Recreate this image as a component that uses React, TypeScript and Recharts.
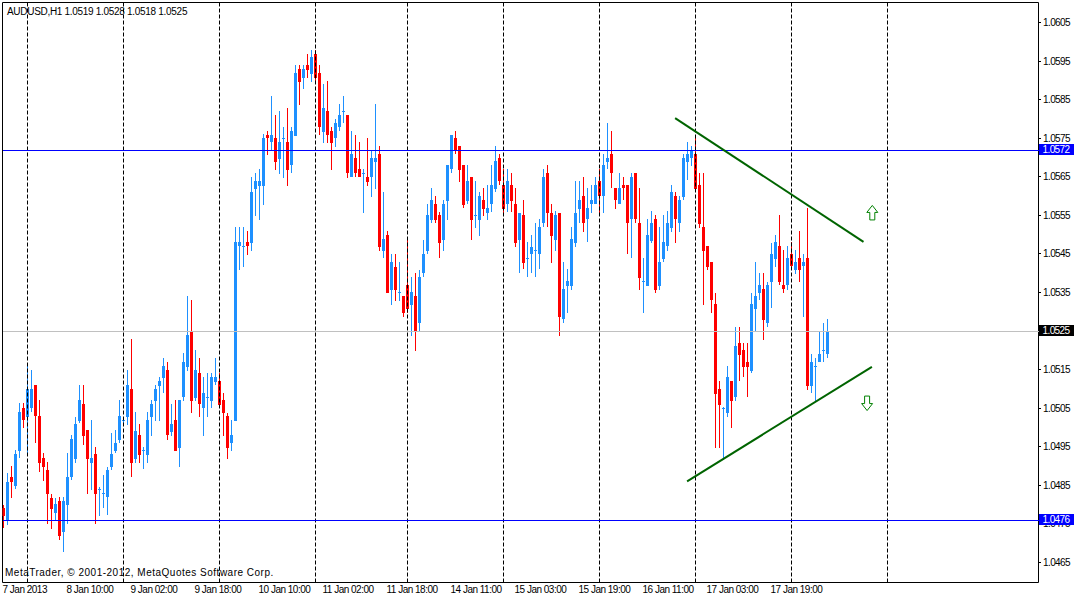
import React from 'react';
import { ComposedChart, Bar, XAxis, YAxis, ReferenceLine, ReferenceArea, ReferenceDot } from 'recharts';

// ---------- data ----------
const symbolTitle = 'AUDUSD,H1';
const copyrightText = 'MetaTrader, \u00a9 2001-2012, MetaQuotes Software Corp.';

const opens = [
  1.04791, 1.04755, 1.04871, 1.04848, 1.04939, 1.05049, 1.05027, 1.05048, 1.05109, 1.05028,
  1.04920, 1.04889, 1.04815, 1.04778, 1.04808, 1.04729, 1.04799, 1.04871, 1.04918, 1.05016,
  1.05060, 1.04991, 1.04907, 1.04930, 1.04837, 1.04826, 1.04819, 1.04897, 1.04938, 1.04966,
  1.05017, 1.05027, 1.05098, 1.04918, 1.04979, 1.04939, 1.04927, 1.05025, 1.05068, 1.05107,
  1.05128, 1.05148, 1.04987, 1.05018, 1.04946, 1.05077, 1.05156, 1.05248, 1.05076, 1.05141,
  1.05048, 1.05076, 1.05068, 1.05117, 1.05119, 1.05070, 1.05029, 1.04958, 1.05016, 1.05468,
  1.05468, 1.05480, 1.05478, 1.05617, 1.05626, 1.05626, 1.05757, 1.05738, 1.05748, 1.05696,
  1.05748, 1.05739, 1.05678, 1.05755, 1.05928, 1.05906, 1.05939, 1.05916, 1.05967, 1.05919,
  1.05766, 1.05819, 1.05767, 1.05748, 1.05777, 1.05819, 1.05809, 1.05647, 1.05697, 1.05669,
  1.05657, 1.05647, 1.05647, 1.05688, 1.05708, 1.05457, 1.05498, 1.05355, 1.05414, 1.05347,
  1.05340, 1.05368, 1.05316, 1.05340, 1.05269, 1.05398, 1.05457, 1.05537, 1.05577, 1.05549,
  1.05486, 1.05587, 1.05668, 1.05748, 1.05728, 1.05679, 1.05587, 1.05649, 1.05548, 1.05537,
  1.05589, 1.05556, 1.05577, 1.05617, 1.05697, 1.05627, 1.05577, 1.05627, 1.05577, 1.05486,
  1.05549, 1.05436, 1.05448, 1.05458, 1.05448, 1.05528, 1.05658, 1.05556, 1.05486, 1.05556,
  1.05279, 1.05366, 1.05366, 1.05478, 1.05566, 1.05599, 1.05538, 1.05577, 1.05577, 1.05638,
  1.05599, 1.05688, 1.05709, 1.05619, 1.05577, 1.05627, 1.05627, 1.05538, 1.05658, 1.05528,
  1.05377, 1.05366, 1.05482, 1.05538, 1.05366, 1.05436, 1.05468, 1.05517, 1.05599, 1.05528,
  1.05597, 1.05687, 1.05697, 1.05708, 1.05627, 1.05519, 1.05469, 1.05428, 1.05319, 1.05098,
  1.05047, 1.05037, 1.05118, 1.05077, 1.05217, 1.05200, 1.05168, 1.05146, 1.05307, 1.05348,
  1.05357, 1.05269, 1.05377, 1.05436, 1.05469, 1.05367, 1.05367, 1.05448, 1.05407, 1.05437,
  1.05417, 1.05437, 1.05107, 1.05157, 1.05168, 1.05198, 1.05190,
];

const highs = [
  1.04798, 1.04880, 1.04899, 1.04940, 1.05061, 1.05061, 1.05161, 1.05148, 1.05109, 1.05070,
  1.04932, 1.04910, 1.04826, 1.04815, 1.04819, 1.04819, 1.04932, 1.04979, 1.05027, 1.05109,
  1.05109, 1.04991, 1.05018, 1.04949, 1.04845, 1.04876, 1.04897, 1.04984, 1.04992, 1.05070,
  1.05027, 1.05148, 1.05228, 1.05040, 1.05008, 1.04949, 1.05040, 1.05070, 1.05109, 1.05130,
  1.05179, 1.05168, 1.05059, 1.05070, 1.05070, 1.05191, 1.05339, 1.05329, 1.05200, 1.05179,
  1.05129, 1.05141, 1.05141, 1.05178, 1.05139, 1.05087, 1.05037, 1.05018, 1.05519, 1.05519,
  1.05519, 1.05508, 1.05649, 1.05658, 1.05669, 1.05759, 1.05768, 1.05858, 1.05809, 1.05819,
  1.05779, 1.05826, 1.05779, 1.05939, 1.05939, 1.05939, 1.05967, 1.05977, 1.05977, 1.05939,
  1.05888, 1.05897, 1.05777, 1.05798, 1.05837, 1.05858, 1.05809, 1.05768, 1.05757, 1.05739,
  1.05669, 1.05748, 1.05718, 1.05837, 1.05728, 1.05609, 1.05509, 1.05448, 1.05448, 1.05428,
  1.05340, 1.05486, 1.05390, 1.05398, 1.05407, 1.05486, 1.05577, 1.05619, 1.05599, 1.05558,
  1.05589, 1.05679, 1.05757, 1.05767, 1.05728, 1.05679, 1.05679, 1.05649, 1.05638, 1.05610,
  1.05619, 1.05627, 1.05679, 1.05728, 1.05707, 1.05668, 1.05668, 1.05658, 1.05619, 1.05556,
  1.05589, 1.05479, 1.05498, 1.05528, 1.05539, 1.05668, 1.05679, 1.05577, 1.05560, 1.05556,
  1.05428, 1.05409, 1.05518, 1.05638, 1.05638, 1.05647, 1.05619, 1.05627, 1.05647, 1.05668,
  1.05709, 1.05787, 1.05767, 1.05619, 1.05658, 1.05647, 1.05627, 1.05658, 1.05658, 1.05619,
  1.05437, 1.05539, 1.05560, 1.05550, 1.05519, 1.05550, 1.05560, 1.05627, 1.05610, 1.05599,
  1.05708, 1.05740, 1.05729, 1.05757, 1.05659, 1.05659, 1.05469, 1.05428, 1.05348, 1.05118,
  1.05053, 1.05158, 1.05118, 1.05260, 1.05260, 1.05217, 1.05217, 1.05348, 1.05428, 1.05398,
  1.05398, 1.05377, 1.05478, 1.05498, 1.05550, 1.05459, 1.05469, 1.05480, 1.05459, 1.05508,
  1.05449, 1.05567, 1.05189, 1.05178, 1.05249, 1.05269, 1.05280,
];

const lows = [
  1.04737, 1.04746, 1.04817, 1.04839, 1.04919, 1.04998, 1.04927, 1.05040, 1.04958, 1.04884,
  1.04861, 1.04748, 1.04736, 1.04756, 1.04707, 1.04677, 1.04748, 1.04863, 1.04907, 1.05010,
  1.04953, 1.04826, 1.04837, 1.04748, 1.04770, 1.04789, 1.04772, 1.04889, 1.04932, 1.04958,
  1.05010, 1.05005, 1.04870, 1.04907, 1.04907, 1.04890, 1.04907, 1.04977, 1.05016, 1.05016,
  1.05087, 1.04966, 1.04977, 1.04939, 1.04897, 1.05068, 1.05146, 1.05037, 1.05068, 1.05027,
  1.04977, 1.05027, 1.05048, 1.05109, 1.05053, 1.04977, 1.04918, 1.04939, 1.05016, 1.05407,
  1.05416, 1.05447, 1.05457, 1.05548, 1.05537, 1.05576, 1.05705, 1.05718, 1.05666, 1.05656,
  1.05646, 1.05626, 1.05658, 1.05755, 1.05836, 1.05877, 1.05906, 1.05895, 1.05895, 1.05757,
  1.05737, 1.05737, 1.05667, 1.05727, 1.05768, 1.05787, 1.05646, 1.05647, 1.05647, 1.05647,
  1.05556, 1.05626, 1.05597, 1.05617, 1.05457, 1.05437, 1.05348, 1.05316, 1.05327, 1.05327,
  1.05286, 1.05295, 1.05237, 1.05198, 1.05247, 1.05390, 1.05448, 1.05528, 1.05528, 1.05437,
  1.05457, 1.05537, 1.05658, 1.05709, 1.05636, 1.05567, 1.05577, 1.05486, 1.05515, 1.05496,
  1.05547, 1.05537, 1.05558, 1.05610, 1.05627, 1.05547, 1.05558, 1.05558, 1.05467, 1.05398,
  1.05409, 1.05390, 1.05398, 1.05390, 1.05409, 1.05518, 1.05518, 1.05426, 1.05457, 1.05237,
  1.05269, 1.05296, 1.05355, 1.05467, 1.05528, 1.05506, 1.05479, 1.05556, 1.05577, 1.05549,
  1.05556, 1.05668, 1.05619, 1.05566, 1.05577, 1.05589, 1.05448, 1.05437, 1.05528, 1.05355,
  1.05296, 1.05366, 1.05478, 1.05348, 1.05355, 1.05428, 1.05457, 1.05506, 1.05478, 1.05506,
  1.05589, 1.05640, 1.05677, 1.05616, 1.05517, 1.05316, 1.05407, 1.05296, 1.04945, 1.04945,
  1.04914, 1.05027, 1.04997, 1.05068, 1.05118, 1.05129, 1.05077, 1.05139, 1.05247, 1.05328,
  1.05226, 1.05260, 1.05308, 1.05416, 1.05367, 1.05347, 1.05356, 1.05407, 1.05397, 1.05377,
  1.05286, 1.05096, 1.05087, 1.05066, 1.05168, 1.05168, 1.05180,
];

const closes = [
  1.04768, 1.04858, 1.04858, 1.04930, 1.05039, 1.05017, 1.05098, 1.05098, 1.05028, 1.04907,
  1.04897, 1.04826, 1.04788, 1.04800, 1.04718, 1.04808, 1.04871, 1.04969, 1.05008, 1.05070,
  1.04976, 1.04917, 1.04919, 1.04826, 1.04839, 1.04830, 1.04889, 1.04930, 1.04958, 1.05028,
  1.05019, 1.05109, 1.04907, 1.04989, 1.04927, 1.04940, 1.05018, 1.05059, 1.05098, 1.05119,
  1.05158, 1.04978, 1.05008, 1.04939, 1.05070, 1.05168, 1.05238, 1.05068, 1.05148, 1.05059,
  1.05087, 1.05078, 1.05129, 1.05129, 1.05057, 1.05037, 1.04946, 1.04978, 1.05480, 1.05480,
  1.05470, 1.05468, 1.05609, 1.05638, 1.05638, 1.05750, 1.05748, 1.05757, 1.05688, 1.05738,
  1.05750, 1.05667, 1.05768, 1.05919, 1.05895, 1.05928, 1.05926, 1.05959, 1.05906, 1.05777,
  1.05826, 1.05757, 1.05737, 1.05788, 1.05809, 1.05820, 1.05658, 1.05708, 1.05658, 1.05647,
  1.05659, 1.05636, 1.05697, 1.05697, 1.05467, 1.05487, 1.05348, 1.05428, 1.05355, 1.05349,
  1.05296, 1.05306, 1.05350, 1.05247, 1.05390, 1.05448, 1.05549, 1.05589, 1.05537, 1.05478,
  1.05577, 1.05679, 1.05757, 1.05718, 1.05666, 1.05575, 1.05638, 1.05537, 1.05550, 1.05599,
  1.05566, 1.05569, 1.05627, 1.05690, 1.05638, 1.05566, 1.05638, 1.05587, 1.05478, 1.05556,
  1.05426, 1.05438, 1.05467, 1.05460, 1.05518, 1.05647, 1.05556, 1.05496, 1.05549, 1.05286,
  1.05358, 1.05378, 1.05487, 1.05556, 1.05589, 1.05528, 1.05567, 1.05589, 1.05627, 1.05599,
  1.05679, 1.05698, 1.05658, 1.05589, 1.05619, 1.05619, 1.05528, 1.05647, 1.05538, 1.05387,
  1.05378, 1.05498, 1.05529, 1.05355, 1.05428, 1.05480, 1.05530, 1.05610, 1.05538, 1.05589,
  1.05697, 1.05708, 1.05718, 1.05616, 1.05526, 1.05457, 1.05416, 1.05328, 1.05086, 1.05057,
  1.05049, 1.05129, 1.05068, 1.05210, 1.05187, 1.05156, 1.05156, 1.05319, 1.05340, 1.05368,
  1.05277, 1.05368, 1.05448, 1.05480, 1.05377, 1.05357, 1.05438, 1.05417, 1.05429, 1.05407,
  1.05429, 1.05107, 1.05168, 1.05159, 1.05189, 1.05200, 1.05250,
];

const timeTickIndex = [0, 16, 32, 48, 64, 80, 96, 112, 128, 144, 160, 176, 192];
const timeTickLabels = [
  '7 Jan 2013', '8 Jan 10:00', '9 Jan 02:00', '9 Jan 18:00', '10 Jan 10:00', '11 Jan 02:00',
  '11 Jan 18:00', '14 Jan 11:00', '15 Jan 03:00', '15 Jan 19:00', '16 Jan 11:00', '17 Jan 03:00',
  '17 Jan 19:00',
];
const daySeparatorIndex = [6, 30, 54, 78, 101, 125, 149, 173, 197, 221];
const priceTicks = [
  1.0465, 1.0475, 1.0485, 1.0495, 1.0505, 1.0515, 1.0525, 1.0535,
  1.0545, 1.0555, 1.0565, 1.0575, 1.0585, 1.0595, 1.0605,
];
const horizontalLevels = [1.05717, 1.0476];
const bidPrice = 1.0525;
const resistanceLine = [{ x: 167.9, y: 1.05801 }, { x: 215.0, y: 1.0548 }];
const supportLine = [{ x: 170.9, y: 1.04859 }, { x: 217.1, y: 1.05156 }];
const upArrowAt = { x: 217.2, y: 1.05555 };
const downArrowAt = { x: 215.9, y: 1.05062 };

// ---------- derived ----------
const data = opens.map((o, i) => ({ idx: i, open: o, high: highs[i], low: lows[i], close: closes[i] }));
const last = data[data.length - 1];
const headerText = `${symbolTitle} ${last.open.toFixed(4)} ${last.high.toFixed(4)} ${last.low.toFixed(4)} ${last.close.toFixed(4)}`;
const yTicks = [...priceTicks.filter((t) => t !== bidPrice), ...horizontalLevels, bidPrice];

// ---------- layout ----------
const W = 1075;
const H = 599;
const X_DOMAIN: [number, number] = [-0.25, 258.75];
const Y_DOMAIN: [number, number] = [1.0459682, 1.0610056];
const FONT = "'Liberation Sans', Arial, sans-serif";
const UP = '#1E90FF';
const DOWN = '#FF0000';
const LEVEL_BLUE = '#0000FF';
const BID_GRAY = '#C0C0C0';

const Candle = (props: any) => {
  const { x, y, width, height, payload } = props;
  if (!payload || x == null || y == null) return null;
  const { open, close, high, low } = payload;
  const col = Math.floor(x + width / 2);
  const ratio = high > low ? height / (high - low) : 0;
  const yOf = (v: number) => y + (high - v) * ratio;
  const color = close >= open ? UP : DOWN;
  const wTop = Math.round(y);
  const wBot = Math.max(wTop + 1, Math.round(y + height));
  const bTop = Math.round(yOf(Math.max(open, close)));
  const bBot = Math.max(bTop + 1, Math.round(yOf(Math.min(open, close))));
  return (
    <g shapeRendering="crispEdges">
      <rect x={col} y={wTop} width={1} height={wBot - wTop} fill={color} />
      <rect x={col - 1} y={bTop} width={3} height={bBot - bTop} fill={color} />
    </g>
  );
};

const hLineShape = (color: string) => (p: any) => {
  const yy = Math.round(p.y1) + 0.5;
  return (
    <line
      x1={p.x1}
      x2={p.x2}
      y1={yy}
      y2={yy}
      stroke={color}
      strokeWidth={1}
      shapeRendering="crispEdges"
    />
  );
};

const PriceTick = (props: any) => {
  const { y, payload } = props;
  const v = payload.value as number;
  const label = v.toFixed(4);
  const box = v === bidPrice ? '#000000' : horizontalLevels.includes(v) ? LEVEL_BLUE : null;
  if (box) {
    const top = Math.round(y) - 6;
    return (
      <g>
        <rect x={1039} y={top} width={35} height={11} fill={box} shapeRendering="crispEdges" />
        <text x={1042.5} y={top + 9} fill="#FFFFFF" fontSize={10} fontFamily={FONT} letterSpacing={-0.6}>
          {label}
        </text>
      </g>
    );
  }
  const yy = Math.round(y) + 0.5;
  return (
    <g>
      <line x1={1038} x2={1041} y1={yy} y2={yy} stroke="#000" shapeRendering="crispEdges" />
      <text x={1043} y={Math.round(y) + 4} fill="#000" fontSize={10} fontFamily={FONT} letterSpacing={-0.6}>
        {label}
      </text>
    </g>
  );
};

const TimeTick = (props: any) => {
  const { x, payload } = props;
  const k = timeTickIndex.indexOf(payload.value);
  return (
    <text x={x - 1} y={593} fill="#000" fontSize={10} fontFamily={FONT} letterSpacing={-0.5}>
      {k >= 0 ? timeTickLabels[k] : ''}
    </text>
  );
};

const arrowShape = (dir: 1 | -1) => (props: any) => {
  const { cx, cy } = props;
  const s = dir;
  const pts = [
    [0, -7.5 * s], [5.5, -0.5 * s], [2.5, -0.5 * s], [2.5, 7 * s],
    [-2.5, 7 * s], [-2.5, -0.5 * s], [-5.5, -0.5 * s],
  ];
  const d = 'M' + pts.map(([px, py]) => `${cx + px},${cy + py}`).join('L') + 'Z';
  return <path d={d} fill="#FFFFFF" stroke="#008000" strokeWidth={1} />;
};

export default function App() {
  return (
    <div style={{ position: 'absolute', left: 0, top: 0, width: W, height: H, background: '#FFFFFF' }}>
      <ComposedChart
        width={W}
        height={H}
        data={data}
        margin={{ top: 2.5, right: 0, bottom: 0, left: 2.5 }}
      >
        <XAxis
          dataKey="idx"
          type="number"
          domain={X_DOMAIN}
          allowDataOverflow
          ticks={timeTickIndex}
          interval={0}
          tick={<TimeTick />}
          tickLine={false}
          axisLine={false}
          height={16.5}
        />
        <YAxis
          orientation="right"
          type="number"
          domain={Y_DOMAIN}
          allowDataOverflow
          ticks={yTicks}
          interval={0}
          tick={<PriceTick />}
          tickLine={false}
          axisLine={false}
          width={36.5}
        />
        <ReferenceLine y={bidPrice} stroke={BID_GRAY} shape={hLineShape(BID_GRAY)} />
        {daySeparatorIndex.map((i) => (
          <ReferenceLine key={`sep${i}`} x={i} stroke="#000000" strokeDasharray="4 2" strokeWidth={1} />
        ))}
        <Bar dataKey={(d: any) => [d.low, d.high]} shape={Candle} barSize={3} isAnimationActive={false} />
        {horizontalLevels.map((v, k) => (
          <ReferenceLine key={`lvl${k}`} y={v} stroke={LEVEL_BLUE} shape={hLineShape(LEVEL_BLUE)} />
        ))}
        <ReferenceLine segment={resistanceLine} stroke="#006400" strokeWidth={2} />
        <ReferenceLine segment={supportLine} stroke="#006400" strokeWidth={2} />
        <ReferenceDot x={upArrowAt.x} y={upArrowAt.y} r={6} shape={arrowShape(1)} />
        <ReferenceDot x={downArrowAt.x} y={downArrowAt.y} r={6} shape={arrowShape(-1)} />
        <ReferenceArea
          x1={X_DOMAIN[0]}
          x2={X_DOMAIN[1]}
          y1={Y_DOMAIN[0]}
          y2={Y_DOMAIN[1]}
          fill="none"
          fillOpacity={0}
          stroke="#000000"
          strokeWidth={1}
        />
      </ComposedChart>
      <svg
        width={W}
        height={H}
        style={{ position: 'absolute', left: 0, top: 0, pointerEvents: 'none' }}
      >
        <text x={7} y={15} fill="#000" fontSize={10} fontFamily={FONT} letterSpacing={-0.3}>
          {headerText}
        </text>
        <text x={5} y={576} fill="#000" fontSize={10} fontFamily={FONT} letterSpacing={0.5}>
          {copyrightText}
        </text>
      </svg>
    </div>
  );
}
